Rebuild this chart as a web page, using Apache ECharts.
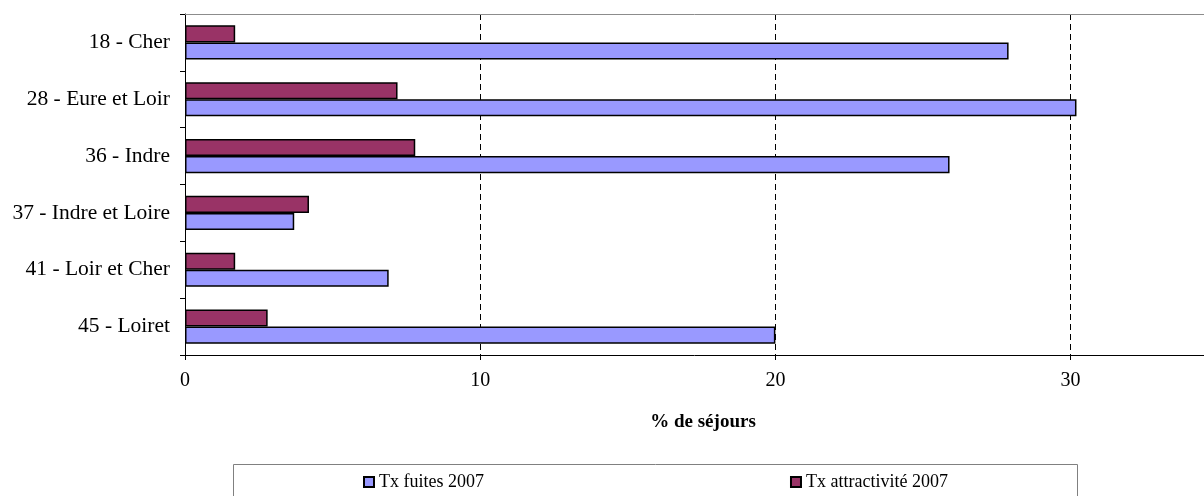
<!DOCTYPE html>
<html lang="fr">
<head>
  <meta charset="UTF-8">
  <title>Taux de fuites et d'attractivité 2007</title>
  <script src="https://cdn.jsdelivr.net/npm/echarts@6/dist/echarts.min.js"></script>
</head>
<body style="margin:0">
<div id="main" style="width:1204px;height:496px;"></div>
<script>
  var categories = ['18 - Cher', '28 - Eure et Loir', '36 - Indre', '37 - Indre et Loire', '41 - Loir et Cher', '45 - Loiret'];
  var fuites = [27.9, 30.2, 25.9, 3.7, 6.9, 20.0];
  var attractivite = [1.7, 7.2, 7.8, 4.2, 1.7, 2.8];
  var xTicks = [0, 10, 20, 30];

  var font = 'Liberation Serif';
  var myChart = echarts.init(document.getElementById('main'));

  // the plot area runs past the right edge of the picture
  var xMax = 34.52;

  var option = {
    animation: false,
    textStyle: { fontFamily: font },
    grid: { left: 185, right: 0, top: 14, bottom: 141 },
    legend: {
      data: ['Tx fuites 2007', 'Tx attractivité 2007'],
      left: 358, top: 468,
      itemGap: 306,
      itemWidth: 10, itemHeight: 10,
      icon: 'rect',
      textStyle: { fontFamily: font, fontSize: 18, color: '#000' }
    },
    graphic: [{
      type: 'rect',
      shape: { x: 233.5, y: 464.5, width: 844, height: 40 },
      style: { fill: 'none', stroke: '#808080', lineWidth: 1 }
    }],
    xAxis: [{
      type: 'value',
      min: 0, max: xMax, interval: 10,
      name: '% de séjours',
      nameLocation: 'middle',
      nameGap: 58,
      nameTextStyle: { fontFamily: font, fontSize: 19, fontWeight: 'bold', color: '#000', padding: [0, 0, 0, 17] },
      axisLine: { show: true, lineStyle: { color: '#000', width: 1 } },
      axisTick: { show: true, length: 5, lineStyle: { color: '#000' } },
      axisLabel: {
        margin: 16, fontSize: 20, color: '#000', showMaxLabel: false,
        formatter: function (v) { return xTicks.indexOf(v) >= 0 ? String(v) : ''; }
      },
      splitLine: { show: true, showMinLine: false, showMaxLine: false, lineStyle: { color: '#000', type: [6, 4], width: 1 } }
    }, {
      type: 'value',
      position: 'top',
      min: 0, max: xMax,
      axisLine: { show: true, lineStyle: { color: '#8c8c8c', width: 1 } },
      axisTick: { show: false },
      axisLabel: { show: false },
      splitLine: { show: false }
    }],
    yAxis: {
      type: 'category',
      inverse: true,
      data: categories,
      axisLine: { lineStyle: { color: '#000', width: 1 } },
      axisTick: { show: true, length: 5, lineStyle: { color: '#000' } },
      axisLabel: { margin: 15, fontSize: 21.5, color: '#000' },
      splitLine: { show: false }
    },
    series: [{
      name: 'Tx attractivité 2007',
      type: 'bar',
      data: attractivite,
      barGap: '0%',
      barCategoryGap: '40%',
      itemStyle: { color: '#993366', borderColor: '#000', borderWidth: 1.5 }
    }, {
      name: 'Tx fuites 2007',
      type: 'bar',
      data: fuites,
      barGap: '0%',
      barCategoryGap: '40%',
      itemStyle: { color: '#9999FF', borderColor: '#000', borderWidth: 1.5 }
    }]
  };

  myChart.setOption(option);
</script>
</body>
</html>
